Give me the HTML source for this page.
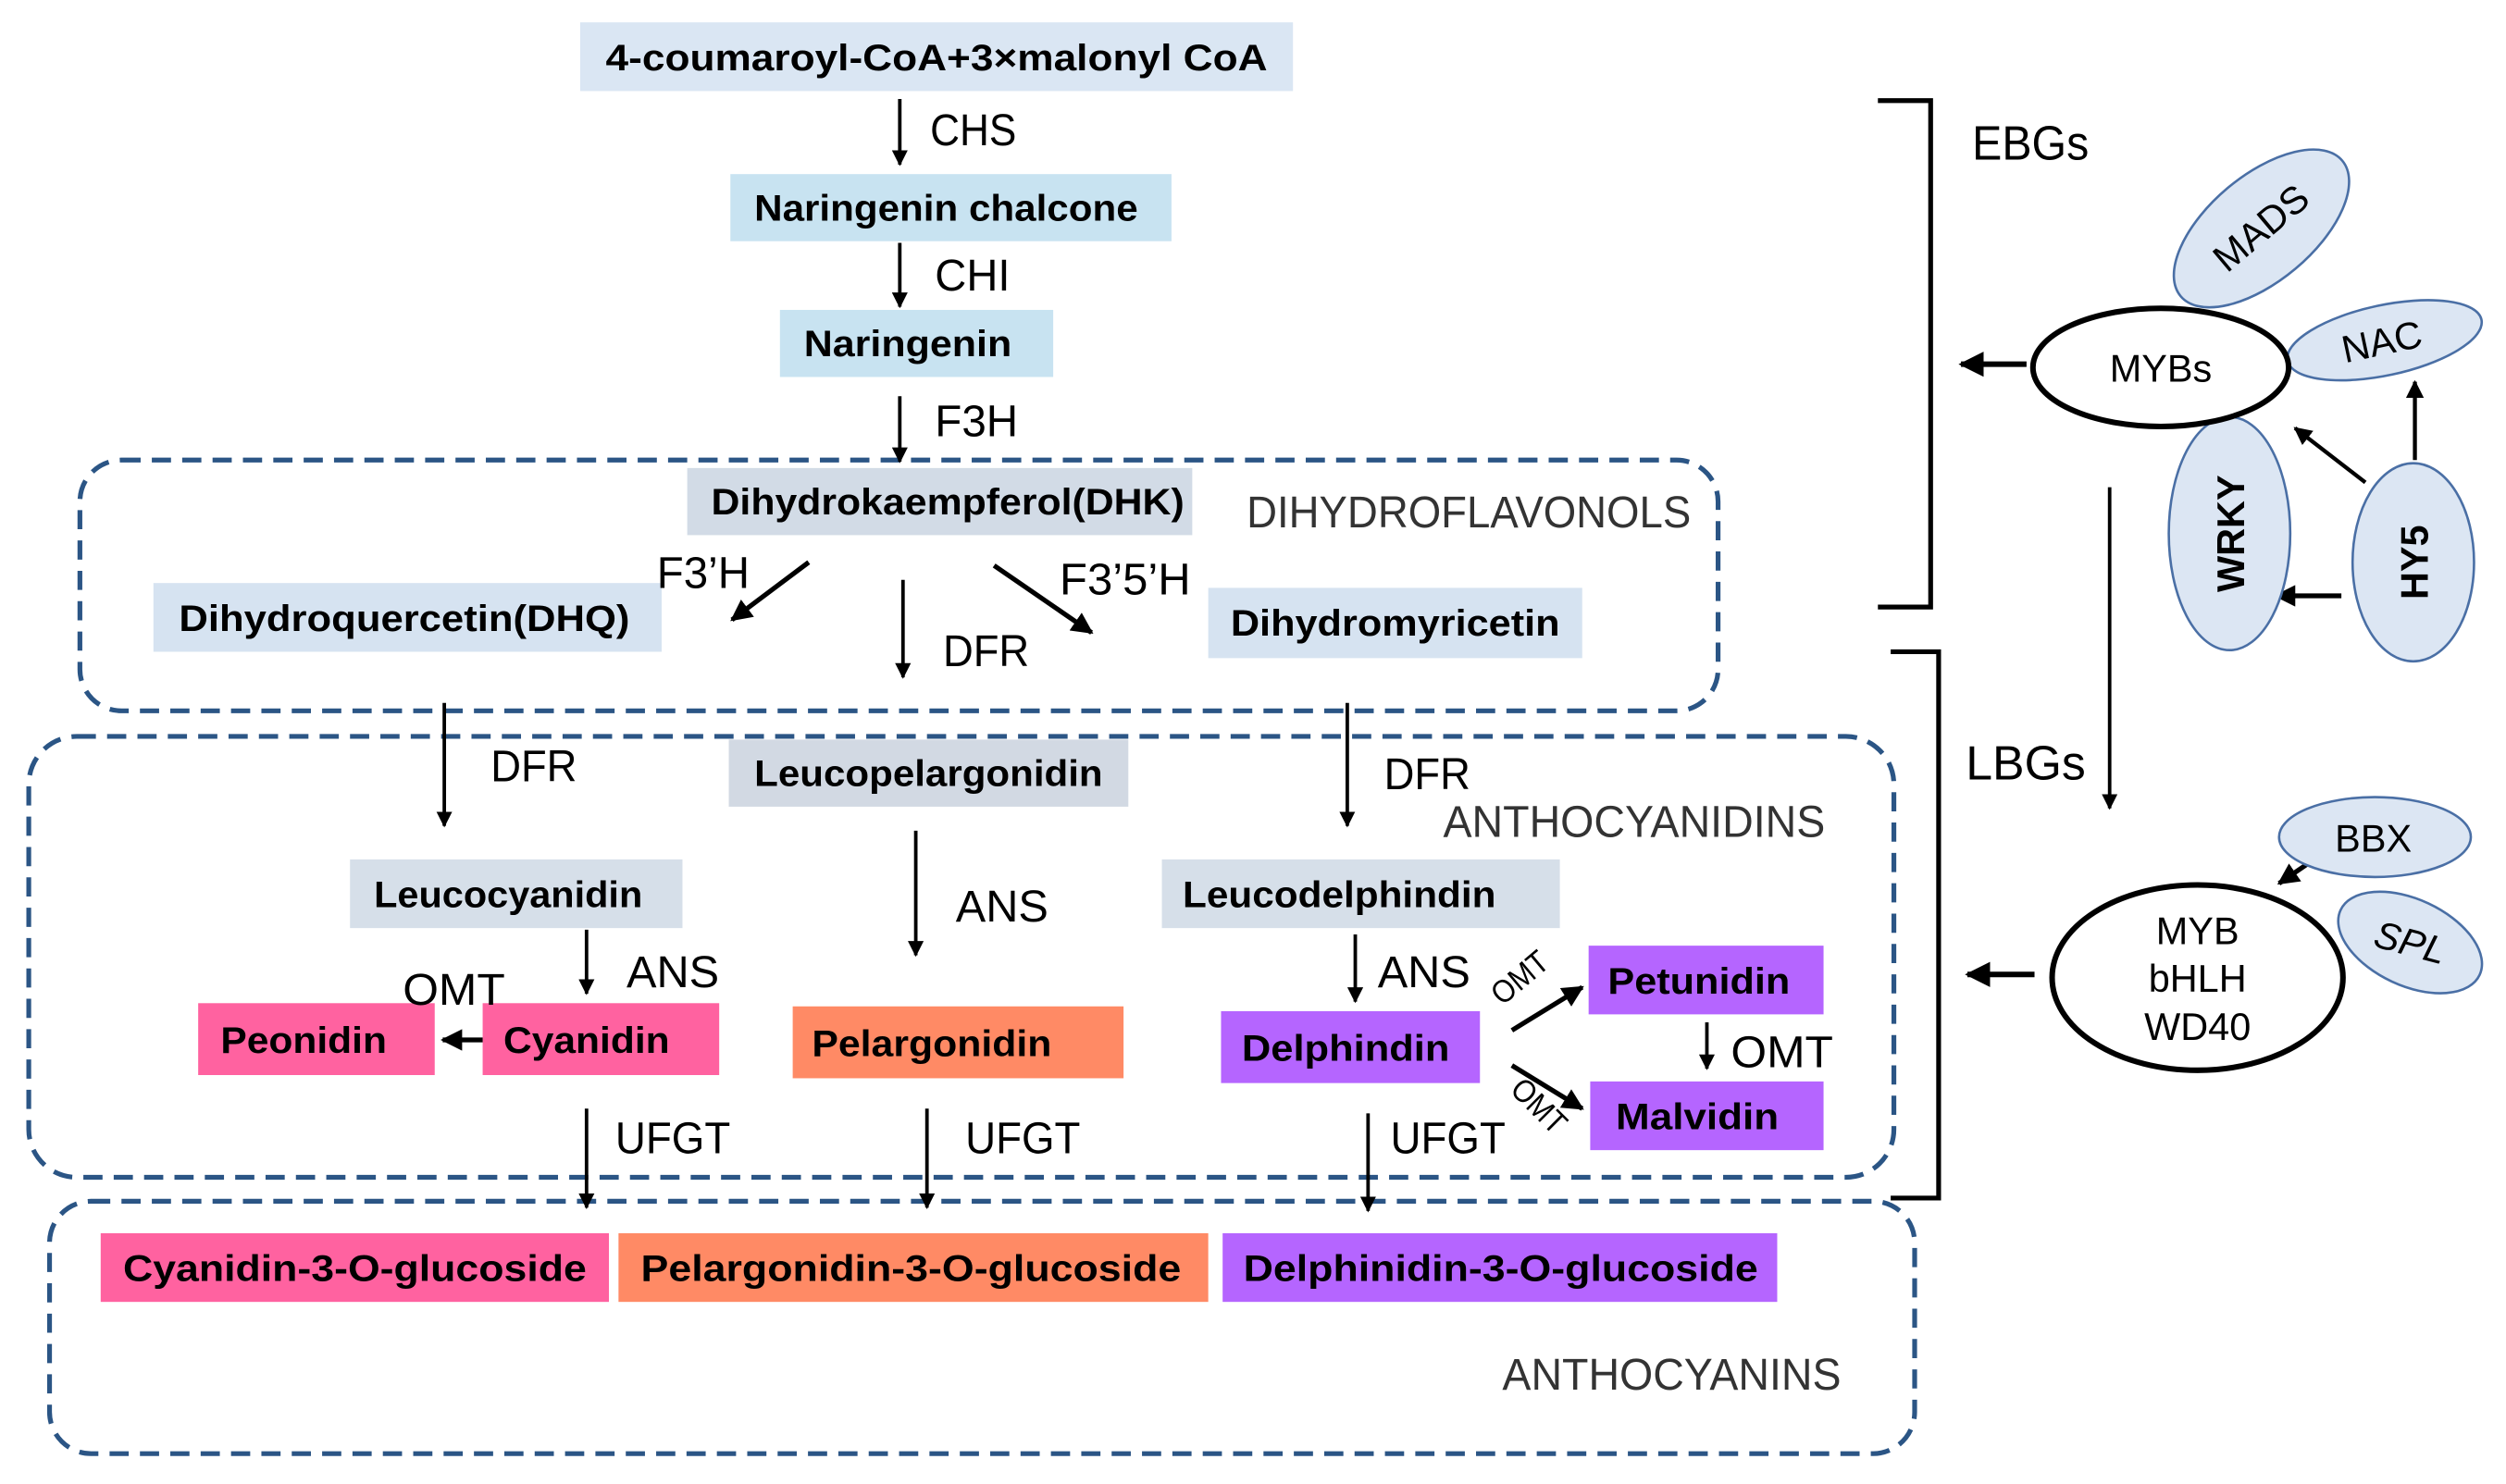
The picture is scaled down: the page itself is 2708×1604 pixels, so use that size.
<!DOCTYPE html>
<html><head><meta charset="utf-8"><style>
html,body{margin:0;padding:0;background:#fff;}
svg{display:block}
text{font-family:"Liberation Sans",sans-serif;fill:#000}
.b{font-size:23px;font-weight:bold;text-anchor:middle}
.t{font-size:28px;fill:#333;font-weight:normal}
</style></head><body>
<svg width="2708" height="1604" viewBox="0 0 1568 929" preserveAspectRatio="none" xmlns="http://www.w3.org/2000/svg">
<defs>
<marker id="a" viewBox="0 0 10 10" refX="9" refY="5" markerWidth="4.5" markerHeight="4.5" orient="auto"><path d="M0,0L10,5L0,10z" fill="#000"/></marker>
</defs>
<g fill="none" stroke="#2b5585" stroke-width="3" stroke-dasharray="12,7">
<rect x="50" y="288" width="1025" height="157" rx="26"/>
<rect x="18" y="461" width="1167" height="276" rx="30"/>
<rect x="31" y="752" width="1167" height="158" rx="26"/>
</g>
<rect x="363" y="14" width="446" height="43" fill="#dae6f3"/>
<text class="b" x="586" y="44" textLength="414" lengthAdjust="spacingAndGlyphs">4-coumaroyl-CoA+3×malonyl CoA</text>
<rect x="457" y="109" width="276" height="42" fill="#c8e3f1"/>
<text class="b" x="592" y="138" textLength="240" lengthAdjust="spacingAndGlyphs">Naringenin chalcone</text>
<rect x="488" y="194" width="171" height="42" fill="#c8e3f1"/>
<text class="b" x="568" y="223" textLength="130" lengthAdjust="spacingAndGlyphs">Naringenin</text>
<rect x="430" y="293" width="316" height="42" fill="#d2dbe6"/>
<text class="b" x="593" y="322" textLength="296" lengthAdjust="spacingAndGlyphs">Dihydrokaempferol(DHK)</text>
<rect x="96" y="365" width="318" height="43" fill="#d6e3f1"/>
<text class="b" x="253" y="395" textLength="282" lengthAdjust="spacingAndGlyphs">Dihydroquercetin(DHQ)</text>
<rect x="756" y="368" width="234" height="44" fill="#d6e3f1"/>
<text class="b" x="873" y="398" textLength="206" lengthAdjust="spacingAndGlyphs">Dihydromyricetin</text>
<rect x="456" y="463" width="250" height="42" fill="#d2d9e3"/>
<text class="b" x="581" y="492" textLength="218" lengthAdjust="spacingAndGlyphs">Leucopelargonidin</text>
<rect x="219" y="538" width="208" height="43" fill="#d6dfe9"/>
<text class="b" x="318" y="568" textLength="168" lengthAdjust="spacingAndGlyphs">Leucocyanidin</text>
<rect x="727" y="538" width="249" height="43" fill="#d6dfe9"/>
<text class="b" x="838" y="568" textLength="196" lengthAdjust="spacingAndGlyphs">Leucodelphindin</text>
<rect x="124" y="628" width="148" height="45" fill="#ff62a0"/>
<text class="b" x="190" y="659" textLength="104" lengthAdjust="spacingAndGlyphs">Peonidin</text>
<rect x="302" y="628" width="148" height="45" fill="#ff62a0"/>
<text class="b" x="367" y="659" textLength="104" lengthAdjust="spacingAndGlyphs">Cyanidin</text>
<rect x="496" y="630" width="207" height="45" fill="#ff8a65"/>
<text class="b" x="583" y="661" textLength="150" lengthAdjust="spacingAndGlyphs">Pelargonidin</text>
<rect x="764" y="633" width="162" height="45" fill="#b565ff"/>
<text class="b" x="842" y="664" textLength="130" lengthAdjust="spacingAndGlyphs">Delphindin</text>
<rect x="994" y="592" width="147" height="43" fill="#b565ff"/>
<text class="b" x="1063" y="622" textLength="114" lengthAdjust="spacingAndGlyphs">Petunidin</text>
<rect x="995" y="677" width="146" height="43" fill="#b565ff"/>
<text class="b" x="1062" y="707" textLength="102" lengthAdjust="spacingAndGlyphs">Malvidin</text>
<rect x="63" y="772" width="318" height="43" fill="#ff62a0"/>
<text class="b" x="222" y="802" textLength="290" lengthAdjust="spacingAndGlyphs">Cyanidin-3-O-glucoside</text>
<rect x="387" y="772" width="369" height="43" fill="#ff8a65"/>
<text class="b" x="570" y="802" textLength="338" lengthAdjust="spacingAndGlyphs">Pelargonidin-3-O-glucoside</text>
<rect x="765" y="772" width="347" height="43" fill="#b565ff"/>
<text class="b" x="939" y="802" textLength="322" lengthAdjust="spacingAndGlyphs">Delphinidin-3-O-glucoside</text>
<text class="t" x="780" y="330" textLength="278" lengthAdjust="spacingAndGlyphs">DIHYDROFLAVONOLS</text>
<text class="t" x="903" y="524" textLength="239" lengthAdjust="spacingAndGlyphs">ANTHOCYANIDINS</text>
<text class="t" x="940" y="870" textLength="212" lengthAdjust="spacingAndGlyphs">ANTHOCYANINS</text>
<g stroke="#000" stroke-width="2.2" fill="none" marker-end="url(#a)">
<line x1="563" y1="62" x2="563" y2="103"/>
<line x1="563" y1="152" x2="563" y2="192"/>
<line x1="563" y1="248" x2="563" y2="289"/>
<line x1="506" y1="352" x2="458" y2="388" stroke-width="3"/>
<line x1="565" y1="363" x2="565" y2="424"/>
<line x1="622" y1="354" x2="683" y2="396" stroke-width="3"/>
<line x1="278" y1="440" x2="278" y2="517"/>
<line x1="843" y1="440" x2="843" y2="517"/>
<line x1="573" y1="520" x2="573" y2="598"/>
<line x1="367" y1="582" x2="367" y2="622"/>
<line x1="848" y1="585" x2="848" y2="627"/>
<line x1="302" y1="651" x2="277" y2="651" stroke-width="3"/>
<line x1="946" y1="645" x2="990" y2="618" stroke-width="3"/>
<line x1="946" y1="667" x2="990" y2="694" stroke-width="3"/>
<line x1="1068" y1="640" x2="1068" y2="669"/>
<line x1="367" y1="694" x2="367" y2="756"/>
<line x1="580" y1="694" x2="580" y2="756"/>
<line x1="856" y1="697" x2="856" y2="758"/>
<line x1="1268" y1="228" x2="1227" y2="228" stroke-width="3.5"/>
<line x1="1480" y1="302" x2="1436" y2="268" stroke-width="2.5"/>
<line x1="1511" y1="288" x2="1511" y2="239" stroke-width="2.5"/>
<line x1="1465" y1="373" x2="1424" y2="373" stroke-width="3"/>
<line x1="1320" y1="305" x2="1320" y2="506"/>
<line x1="1445" y1="540" x2="1426" y2="553" stroke-width="3"/>
<line x1="1273" y1="610" x2="1231" y2="610" stroke-width="3.5"/>
</g>
<path d="M1175,63 H1208 V380 H1175" fill="none" stroke="#000" stroke-width="3"/>
<path d="M1183,408 H1213 V750 H1183" fill="none" stroke="#000" stroke-width="3"/>
<g font-size="28">
<text x="582" y="91" textLength="54" lengthAdjust="spacingAndGlyphs">CHS</text>
<text x="585" y="182" textLength="47" lengthAdjust="spacingAndGlyphs">CHI</text>
<text x="585" y="273" textLength="52" lengthAdjust="spacingAndGlyphs">F3H</text>
<text x="411" y="368" textLength="58" lengthAdjust="spacingAndGlyphs">F3’H</text>
<text x="663" y="372" textLength="82" lengthAdjust="spacingAndGlyphs">F3’5’H</text>
<text x="590" y="417" textLength="54" lengthAdjust="spacingAndGlyphs">DFR</text>
<text x="307" y="489" textLength="54" lengthAdjust="spacingAndGlyphs">DFR</text>
<text x="866" y="494" textLength="54" lengthAdjust="spacingAndGlyphs">DFR</text>
<text x="598" y="577" textLength="58" lengthAdjust="spacingAndGlyphs">ANS</text>
<text x="392" y="618" textLength="58" lengthAdjust="spacingAndGlyphs">ANS</text>
<text x="862" y="618" textLength="58" lengthAdjust="spacingAndGlyphs">ANS</text>
<text x="252" y="629" textLength="64" lengthAdjust="spacingAndGlyphs">OMT</text>
<text x="1083" y="668" textLength="64" lengthAdjust="spacingAndGlyphs">OMT</text>
<text x="385" y="722" textLength="72" lengthAdjust="spacingAndGlyphs">UFGT</text>
<text x="604" y="722" textLength="72" lengthAdjust="spacingAndGlyphs">UFGT</text>
<text x="870" y="722" textLength="72" lengthAdjust="spacingAndGlyphs">UFGT</text>
<text x="0" y="0" font-size="20" transform="translate(940,630) rotate(-40)" textLength="40" lengthAdjust="spacingAndGlyphs">OMT</text>
<text x="0" y="0" font-size="20" transform="translate(944,683) rotate(45)" textLength="40" lengthAdjust="spacingAndGlyphs">OMT</text>
<text x="1234" y="100" font-size="30" textLength="73" lengthAdjust="spacingAndGlyphs">EBGs</text>
<text x="1230" y="488" font-size="30" textLength="75" lengthAdjust="spacingAndGlyphs">LBGs</text>
</g>
<g fill="#dce6f3" stroke="#4a6fa5" stroke-width="1.5">
<ellipse cx="1415" cy="143" rx="66" ry="33" transform="rotate(-40 1415 143)"/>
<ellipse cx="1492" cy="213" rx="62" ry="22" transform="rotate(-12 1492 213)"/>
<ellipse cx="1395" cy="334" rx="38" ry="73"/>
<ellipse cx="1510" cy="352" rx="38" ry="62"/>
<ellipse cx="1486" cy="524" rx="60" ry="25"/>
<ellipse cx="1508" cy="590" rx="48" ry="27" transform="rotate(25 1508 590)"/>
</g>
<ellipse cx="1352" cy="230" rx="80" ry="37" fill="#fff" stroke="#000" stroke-width="3.5"/>
<ellipse cx="1375" cy="612" rx="91" ry="58" fill="#fff" stroke="#000" stroke-width="3.5"/>
<g font-size="24" text-anchor="middle">
<text x="1352" y="239">MYBs</text>
<text x="1375" y="591">MYB</text>
<text x="1375" y="621">bHLH</text>
<text x="1375" y="651">WD40</text>
<text x="1485" y="533">BBX</text>
<text x="0" y="0" transform="translate(1506,598) rotate(15)" font-style="italic">SPL</text>
<text x="0" y="0" transform="translate(1420,149) rotate(-40)">MADS</text>
<text x="0" y="0" transform="translate(1492,222) rotate(-12)">NAC</text>
<text x="0" y="0" transform="translate(1404,334) rotate(-90)" font-weight="bold">WRKY</text>
<text x="0" y="0" transform="translate(1519,352) rotate(-90)" font-weight="bold">HY5</text>
</g>
</svg>
</body></html>
